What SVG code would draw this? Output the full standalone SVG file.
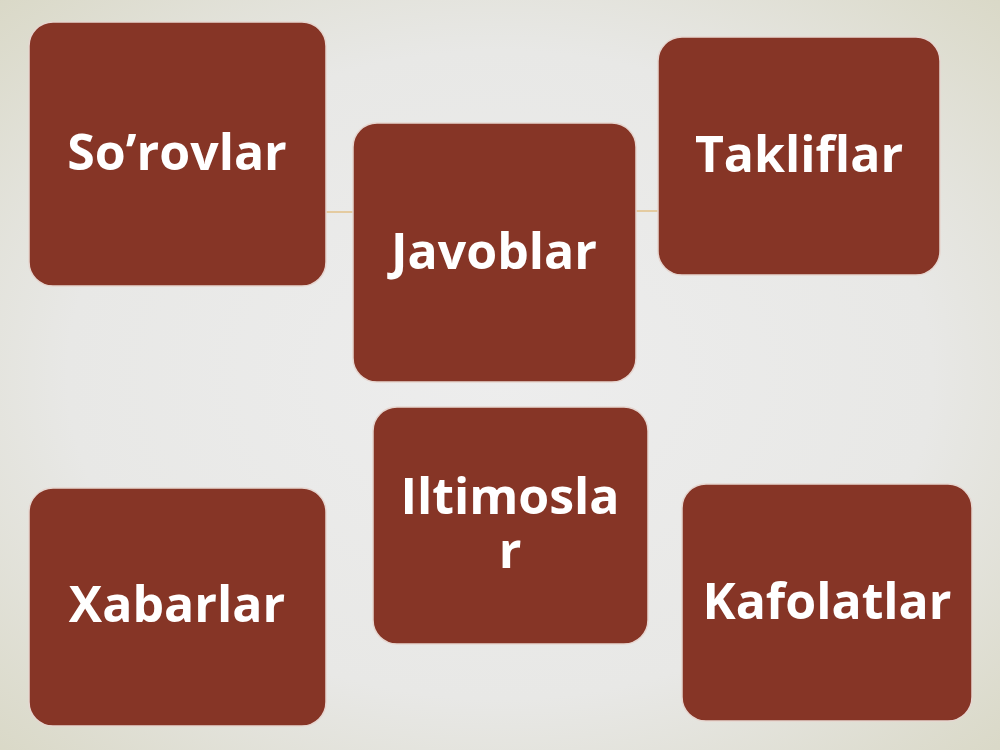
<svg xmlns="http://www.w3.org/2000/svg" width="1000" height="750" viewBox="0 0 1000 750">
  <defs>
    <radialGradient id="bg" cx="50%" cy="50%" r="72%">
      <stop offset="0" stop-color="#EDEDED"/>
      <stop offset="0.6" stop-color="#E8E8E6"/>
      <stop offset="1" stop-color="#D9D8C6"/>
    </radialGradient>
  </defs>
  <style>
    .box { fill: #863526; stroke: #E6D6D0; stroke-width: 1.5; }
    .lbl { fill: #FFFFFF; font-family: "Open Sans", "Noto Sans", "Liberation Sans", sans-serif; font-weight: 700; font-size: 50px; text-anchor: middle; }
    .conn { stroke: #E2C088; stroke-width: 1.5; fill: none; }
  </style>
  <rect x="0" y="0" width="1000" height="750" fill="url(#bg)"/>
  <g id="connectors">
    <line class="conn" x1="326" y1="212" x2="353" y2="212"/>
    <line class="conn" x1="636" y1="211" x2="658" y2="211"/>
  </g>
  <g id="sorovlar">
    <rect class="box" x="29" y="22" width="297" height="264" rx="24"/>
    <text class="lbl" x="177" y="170">So’rovlar</text>
  </g>
  <g id="javoblar">
    <rect class="box" x="353" y="123" width="283" height="259" rx="24"/>
    <text class="lbl" x="494" y="269">Javoblar</text>
  </g>
  <g id="takliflar">
    <rect class="box" x="658" y="37" width="282" height="238" rx="24"/>
    <text class="lbl" x="799" y="172">Takliflar</text>
  </g>
  <g id="iltimoslar">
    <rect class="box" x="373" y="407" width="275" height="237" rx="24"/>
    <text class="lbl" x="510" y="514">Iltimosla<tspan x="510" y="568">r</tspan></text>
  </g>
  <g id="xabarlar">
    <rect class="box" x="29" y="488" width="297" height="238" rx="24"/>
    <text class="lbl" x="177" y="622">Xabarlar</text>
  </g>
  <g id="kafolatlar">
    <rect class="box" x="682" y="484" width="290" height="237" rx="24"/>
    <text class="lbl" x="827" y="619">Kafolatlar</text>
  </g>
</svg>
